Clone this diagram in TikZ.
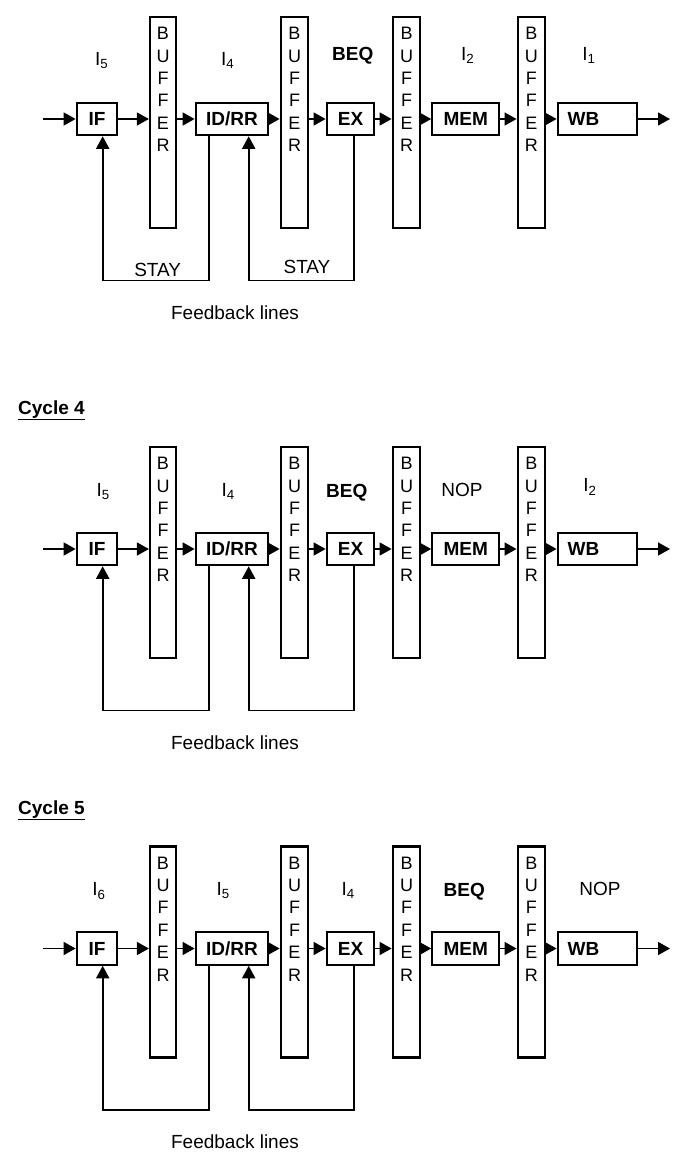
\documentclass[tikz,border=0pt]{standalone}
\usepackage{fontspec}
\setmainfont{Liberation Sans}
\usetikzlibrary{arrows.meta}
\tikzset{
 stagebox/.style={draw, line width=2.2pt, minimum height=32.3pt, inner sep=0pt,
   font=\fontsize{19}{23}\selectfont\bfseries, text height=13.7pt, text depth=0pt},
 bufbox/.style={draw, line width=2.2pt, minimum height=211pt, inner sep=0pt},
 buftext/.style={anchor=north, align=center, inner sep=0pt,
   font=\fontsize{18}{22.4}\selectfont, yshift=-11.2pt},
 arr/.style={line width=1.5pt, -{Triangle[length=12pt,width=13pt]}},
 fb/.style={line width=1.8pt, -{Triangle[length=12.5pt,width=13pt]}},
 lbl/.style={anchor=base, inner sep=0pt, font=\fontsize{19}{23}\selectfont},
 lblb/.style={lbl, font=\fontsize{19}{23}\selectfont\bfseries},
}
\newcommand\pipeline[2]{%
 \node[stagebox, minimum width=40.6pt] (#1IF) at (97,{119+#2}) {IF};
 \node[bufbox, minimum width=26pt, label={[buftext]north:{B\\U\\F\\F\\E\\R}}] (#1B1) at (163,{122.5+#2}) {};
 \node[stagebox, minimum width=72.6pt] (#1IDRR) at (232,{119+#2}) {ID/RR};
 \node[bufbox, minimum width=27.6pt, label={[buftext]north:{B\\U\\F\\F\\E\\R}}] (#1B2) at (294.5,{122.5+#2}) {};
 \node[stagebox, minimum width=47.6pt] (#1EX) at (350.5,{119+#2}) {EX};
 \node[bufbox, minimum width=27.6pt, label={[buftext]north:{B\\U\\F\\F\\E\\R}}] (#1B3) at (406.5,{122.5+#2}) {};
 \node[stagebox, minimum width=67pt] (#1MEM) at (465.8,{119+#2}) {MEM};
 \node[bufbox, minimum width=27.3pt, label={[buftext]north:{B\\U\\F\\F\\E\\R}}] (#1B4) at (531.3,{122.5+#2}) {};
 \node[stagebox, minimum width=79pt, text width=59pt, align=left, inner xsep=10pt] (#1WB) at (597.2,{119+#2}) {WB};
 \coordinate (#1in) at (43.3,{119+#2});
 \coordinate (#1out) at (670,{119+#2});
 \draw[arr] (#1in) -- (#1IF.west);
 \draw[arr] (#1IF.east) -- (#1IF.east -| #1B1.west);
 \draw[arr] (#1IF.east -| #1B1.east) -- (#1IDRR.west);
 \draw[arr] (#1IDRR.east) -- (#1IDRR.east -| #1B2.west);
 \draw[arr] (#1IDRR.east -| #1B2.east) -- (#1EX.west);
 \draw[arr] (#1EX.east) -- (#1EX.east -| #1B3.west);
 \draw[arr] (#1EX.east -| #1B3.east) -- (#1MEM.west);
 \draw[arr] (#1MEM.east) -- (#1MEM.east -| #1B4.west);
 \draw[arr] (#1MEM.east -| #1B4.east) -- (#1WB.west);
 \draw[arr] (#1WB.east) -- (#1out);
 \draw[fb] ([xshift=-23pt]#1IDRR.south) -- ++(0,144.3) coordinate (#1fa) -| ([xshift=5.7pt]#1IF.south);
 \draw[fb] ([xshift=3.5pt]#1EX.south) -- ++(0,144.3) coordinate (#1fb) -| ([xshift=16.7pt]#1IDRR.south);
 \node[lbl] (#1fbl) at (235,{319+#2}) {Feedback lines};
}
\begin{document}
\begin{tikzpicture}[x=1pt,y=-1pt]
\fill[white] (0,0) rectangle (698,1160);
\useasboundingbox (0,0) rectangle (698,1160);
% ---- section 1
\pipeline{a}{0}
\node[lbl] (aL1) at (101.7,65.7) {I\textsubscript{5}};
\node[lbl] (aL2) at (227.7,65.7) {I\textsubscript{4}};
\node[lblb] (aL3) at (352.7,60.7) {BEQ};
\node[lbl] (aL4) at (467.7,60) {I\textsubscript{2}};
\node[lbl] (aL5) at (589,60) {I\textsubscript{1}};
\node[lbl] (aS1) at (157.7,276) {STAY};
\node[lbl] (aS2) at (307,273.3) {STAY};
% ---- section 2
\node[lblb, anchor=base west] (cyc4) at (18,414) {\underline{Cycle 4}};
\pipeline{b}{430}
\node[lbl] (bL1) at (103.3,496.5) {I\textsubscript{5}};
\node[lbl] (bL2) at (228.3,496.5) {I\textsubscript{4}};
\node[lblb] (bL3) at (346.7,497.3) {BEQ};
\node[lbl] (bL4) at (462,496) {NOP};
\node[lbl] (bL5) at (590,491.7) {I\textsubscript{2}};
% ---- section 3
\node[lblb, anchor=base west] (cyc5) at (18,814) {\underline{Cycle 5}};
\pipeline{c}{829.5}
\node[lbl] (cL1) at (99,895.7) {I\textsubscript{6}};
\node[lbl] (cL2) at (223.3,895.7) {I\textsubscript{5}};
\node[lbl] (cL3) at (348.3,895.7) {I\textsubscript{4}};
\node[lblb] (cL4) at (464.3,896.7) {BEQ};
\node[lbl] (cL5) at (600,895) {NOP};
\end{tikzpicture}
\end{document}
